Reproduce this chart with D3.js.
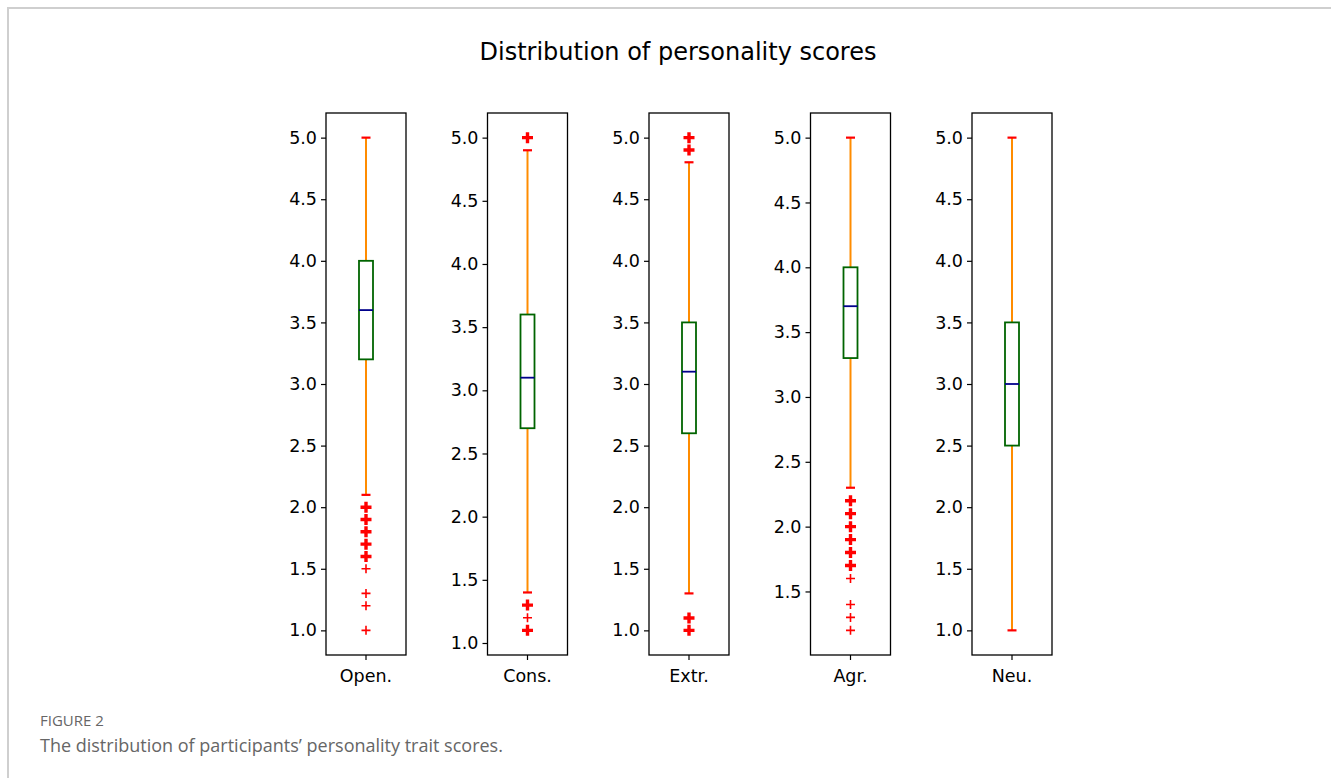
<!DOCTYPE html>
<html><head><meta charset="utf-8">
<script src="https://cdn.jsdelivr.net/npm/d3@7/dist/d3.min.js"></script>
<style>
body{margin:0;background:#fff;}
svg{display:block;}
</style></head>
<body>
<svg id="chart" width="1331" height="778"></svg>
<script>
// ---- data ----
const categories = ["Open.", "Cons.", "Extr.", "Agr.", "Neu."];
const q1 = [3.2, 2.7, 2.6, 3.3, 2.5];
const medians = [3.6, 3.1, 3.1, 3.7, 3.0];
const q3 = [4.0, 3.6, 3.5, 4.0, 3.5];
const whiskerLow = [2.1, 1.4, 1.3, 2.3, 1.0];
const whiskerHigh = [5.0, 4.9, 4.8, 5.0, 5.0];
// outliers: [value, count of overlapping points]
const outliers = [
  [[2.0,3],[1.9,3],[1.8,3],[1.7,3],[1.6,3],[1.5,1],[1.3,1],[1.2,1],[1.0,1]],
  [[5.0,3],[1.3,3],[1.2,1],[1.1,3]],
  [[5.0,3],[4.9,3],[1.1,3],[1.0,3]],
  [[2.2,3],[2.1,3],[2.0,3],[1.9,3],[1.8,3],[1.7,3],[1.6,1],[1.4,1],[1.3,1],[1.2,1]],
  []
];
const yTicks = [
  [1.0,1.5,2.0,2.5,3.0,3.5,4.0,4.5,5.0],
  [1.0,1.5,2.0,2.5,3.0,3.5,4.0,4.5,5.0],
  [1.0,1.5,2.0,2.5,3.0,3.5,4.0,4.5,5.0],
  [1.5,2.0,2.5,3.0,3.5,4.0,4.5,5.0],
  [1.0,1.5,2.0,2.5,3.0,3.5,4.0,4.5,5.0]
];
const title = "Distribution of personality scores";
const figLabel = "FIGURE 2";
const caption = "The distribution of participants\u2019 personality trait scores.";

// ---- layout ----
const svg = d3.select("#chart");
const font = "DejaVu Sans, sans-serif";
const axTop = 113, axBottom = 655, axW = 80;
const panelX = d3.scalePoint().domain(categories).range([326, 972]);

// card frame
svg.append("line").attr("x1",8).attr("x2",1331).attr("y1",8).attr("y2",8)
  .attr("stroke","#cfcfcf").attr("stroke-width",2);
svg.append("line").attr("x1",8).attr("x2",8).attr("y1",7).attr("y2",778)
  .attr("stroke","#cfcfcf").attr("stroke-width",2);

svg.append("text").attr("x",678).attr("y",60).attr("text-anchor","middle")
  .attr("font-family",font).attr("font-size",24).attr("fill","#000").text(title);

categories.forEach((cat,i)=>{
  const x0 = panelX(cat);
  const allVals = [whiskerLow[i], whiskerHigh[i], ...outliers[i].map(d=>d[0])];
  const lo = d3.min(allVals), hi = d3.max(allVals), pad = (hi-lo)*0.05;
  const y = d3.scaleLinear().domain([lo-pad, hi+pad]).range([axBottom, axTop]);
  const xb = d3.scaleBand().domain([cat]).range([x0, x0+axW]);
  const cx = xb(cat) + xb.bandwidth()/2;
  const g = svg.append("g");

  // y axis
  const ya = g.append("g").attr("transform",`translate(${x0},0)`)
    .call(d3.axisLeft(y).tickValues(yTicks[i]).tickFormat(d3.format(".1f")).tickSize(5).tickPadding(4));
  ya.select(".domain").remove();
  ya.selectAll("line").attr("stroke","#000").attr("stroke-width",1.2);
  ya.selectAll("text").attr("font-family",font).attr("font-size",17.5).attr("fill","#000");
  // x axis
  const xa = g.append("g").attr("transform",`translate(0,${axBottom})`)
    .call(d3.axisBottom(xb).tickSize(5).tickPadding(10));
  xa.select(".domain").remove();
  xa.selectAll("line").attr("stroke","#000").attr("stroke-width",1.2);
  xa.selectAll("text").attr("font-family",font).attr("font-size",17.5).attr("fill","#000");

  // whiskers
  g.append("line").attr("x1",cx).attr("x2",cx).attr("y1",y(whiskerHigh[i])).attr("y2",y(q3[i]))
    .attr("stroke","#ff8c00").attr("stroke-width",2);
  g.append("line").attr("x1",cx).attr("x2",cx).attr("y1",y(whiskerLow[i])).attr("y2",y(q1[i]))
    .attr("stroke","#ff8c00").attr("stroke-width",2);
  // caps
  [whiskerLow[i], whiskerHigh[i]].forEach(v=>{
    g.append("line").attr("x1",cx-4.5).attr("x2",cx+4.5).attr("y1",y(v)).attr("y2",y(v))
      .attr("stroke","#ff0000").attr("stroke-width",2.2);
  });
  // box
  g.append("rect").attr("x",cx-7).attr("width",14).attr("y",y(q3[i])).attr("height",y(q1[i])-y(q3[i]))
    .attr("fill","#fff").attr("stroke","#006400").attr("stroke-width",1.8);
  // median
  g.append("line").attr("x1",cx-7).attr("x2",cx+7).attr("y1",y(medians[i])).attr("y2",y(medians[i]))
    .attr("stroke","#00008b").attr("stroke-width",1.8);
  // fliers
  outliers[i].forEach(([v,c])=>{
    const yy = y(v), s = c>1 ? 5.5 : 4.5, sw = c>1 ? 3.4 : 1.6;
    g.append("path").attr("d",`M${cx-s},${yy}H${cx+s}M${cx},${yy-s}V${yy+s}`)
      .attr("stroke","#ff0000").attr("stroke-width",sw).attr("fill","none");
  });
  // axes frame
  g.append("rect").attr("x",x0).attr("y",axTop).attr("width",axW).attr("height",axBottom-axTop)
    .attr("fill","none").attr("stroke","#000").attr("stroke-width",1.3);
});

svg.append("text").attr("x",40).attr("y",726).attr("font-family","Open Sans, sans-serif")
  .attr("font-size",15).attr("fill","#666").text(figLabel);
svg.append("text").attr("x",40).attr("y",752).attr("font-family","Open Sans, sans-serif")
  .attr("font-size",18).attr("fill","#666").text(caption);
</script>
</body></html>
